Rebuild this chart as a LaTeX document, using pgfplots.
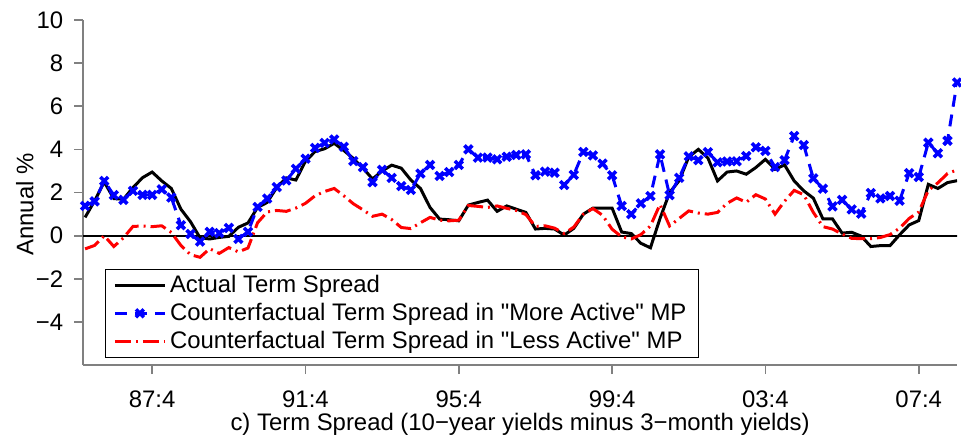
\documentclass[border=0pt]{standalone}
\usepackage{pgfplots}
\pgfplotsset{compat=1.18}
\usepackage{pgfplotstable}
\usepackage{fontspec}
\setmainfont{Liberation Sans}[Ligatures=TeXOff]

\pgfplotstableread{
i v
0 0.85
1 1.62
2 2.49
3 1.72
4 1.69
5 2.23
6 2.69
7 2.95
8 2.54
9 2.19
10 1.23
11 0.65
12 -0.10
13 -0.15
14 -0.08
15 -0.03
16 0.39
17 0.59
18 1.31
19 1.54
20 2.23
21 2.68
22 2.58
23 3.45
24 3.90
25 4.03
26 4.28
27 3.95
28 3.58
29 3.13
30 2.63
31 3.00
32 3.27
33 3.13
34 2.58
35 2.19
36 1.31
37 0.77
38 0.74
39 0.69
40 1.42
41 1.54
42 1.65
43 1.13
44 1.38
45 1.23
46 1.08
47 0.31
48 0.34
49 0.31
50 0.03
51 0.34
52 1.00
53 1.28
54 1.28
55 1.28
56 0.17
57 0.10
58 -0.35
59 -0.56
60 0.80
61 2.00
62 2.55
63 3.65
64 4.00
65 3.60
66 2.54
67 2.95
68 3.00
69 2.85
70 3.16
71 3.54
72 3.08
73 3.28
74 2.54
75 2.08
76 1.74
77 0.78
78 0.78
79 0.12
80 0.16
81 -0.02
82 -0.50
83 -0.46
84 -0.46
85 0.04
86 0.50
87 0.70
88 2.38
89 2.19
90 2.46
91 2.55
}\actual

\pgfplotstableread{
i v
0 1.38
1 1.59
2 2.54
3 1.88
4 1.66
5 2.08
6 1.89
7 1.89
8 2.15
9 1.77
10 0.49
11 0.08
12 -0.27
13 0.18
14 0.12
15 0.36
16 -0.15
17 0.18
18 1.33
19 1.72
20 2.25
21 2.56
22 3.10
23 3.57
24 4.07
25 4.30
26 4.46
27 4.12
28 3.46
29 3.18
30 2.48
31 3.05
32 2.68
33 2.30
34 2.12
35 2.88
36 3.28
37 2.77
38 2.95
39 3.28
40 4.00
41 3.62
42 3.62
43 3.54
44 3.66
45 3.74
46 3.77
47 2.80
48 2.97
49 2.92
50 2.35
51 2.82
52 3.88
53 3.72
54 3.34
55 2.80
56 1.38
57 1.00
58 1.50
59 1.84
60 3.77
61 1.88
62 2.68
63 3.68
64 3.50
65 3.87
66 3.40
67 3.44
68 3.45
69 3.69
70 4.10
71 3.93
72 3.18
73 3.50
74 4.62
75 4.20
76 2.66
77 2.18
78 1.36
79 1.66
80 1.22
81 1.02
82 1.98
83 1.73
84 1.84
85 1.62
86 2.90
87 2.72
88 4.31
89 3.82
90 4.40
91 7.10
}\moreactive

\pgfplotstableread{
i v
0 -0.61
1 -0.45
2 0.00
3 -0.50
4 -0.10
5 0.43
6 0.45
7 0.42
8 0.46
9 0.15
10 -0.45
11 -0.88
12 -1.00
13 -0.60
14 -0.82
15 -0.55
16 -0.75
17 -0.57
18 0.60
19 1.10
20 1.17
21 1.13
22 1.28
23 1.50
24 1.85
25 2.05
26 2.19
27 1.85
28 1.48
29 1.20
30 0.90
31 1.00
32 0.75
33 0.38
34 0.33
35 0.60
36 0.85
37 0.72
38 0.69
39 0.72
40 1.40
41 1.36
42 1.31
43 1.38
44 1.27
45 1.17
46 0.98
47 0.43
48 0.46
49 0.35
50 0.10
51 0.40
52 1.00
53 1.26
54 0.95
55 0.30
56 -0.05
57 -0.15
58 0.05
59 0.45
60 1.45
61 0.45
62 0.80
63 1.15
64 1.05
65 1.00
66 1.08
67 1.50
68 1.75
69 1.55
70 1.90
71 1.70
72 1.00
73 1.60
74 2.10
75 1.90
76 1.08
77 0.42
78 0.31
79 0.08
80 -0.12
81 -0.14
82 -0.14
83 -0.08
84 0.05
85 0.35
86 0.80
87 1.10
88 2.10
89 2.45
90 2.88
91 3.05
}\lessactive

\begin{document}
\begin{tikzpicture}
\begin{axis}[
  at={(0pt,0pt)}, anchor=south west,
  scale only axis,
  width=438.75pt, height=173.35pt,
  xmin=-0.2, xmax=91,
  ymin=-6, ymax=10,
  axis x line*=bottom, axis y line*=left,
  axis line style={gray, line width=1pt, -},
  tick align=outside,
  major tick length=4.5pt,
  tick style={gray, line width=0.8pt},
  xtick={7,23,39,55,71,87},
  xticklabels={87:4,91:4,95:4,99:4,03:4,07:4},
  ytick={-4,-2,0,2,4,6,8,10},
  yticklabels={−4,−2,0,2,4,6,8,10},
  ticklabel style={font=\fontsize{12}{14}\selectfont, black},
  xticklabel style={yshift=-5pt},
  yticklabel style={xshift=-2pt},
  label style={font=\fontsize{12}{14}\selectfont},
  xlabel={c) Term Spread (10−year yields minus 3−month yields)},
  ylabel={Annual \%},
  xlabel style={at={(axis description cs:0.5,-0.172)}, anchor=center},
  ylabel style={at={(axis description cs:-0.0667,0.465)}, anchor=center},
  legend style={at={(axis description cs:0.025,0.022)}, anchor=south west,
    draw=black, line width=0.5pt, fill=white,
    font=\fontsize{12}{14}\selectfont,
    inner xsep=4pt, inner ysep=1pt, row sep=0pt,
    nodes={inner sep=1.9pt},
    cells={anchor=west}},
  legend image code/.code={\draw[mark repeat=2,mark phase=2,#1] plot coordinates {(0pt,0pt)(12.5pt,0pt)(25pt,0pt)};},
  clip=true,
]
\addplot[black, line width=0.9pt, forget plot] coordinates {(-1,0) (92,0)};
\addplot[black, line width=1.5pt] table[x=i,y=v] {\actual};
\addlegendentry{Actual Term Spread}
\addplot[blue, line width=1.5pt, dash pattern=on 6pt off 4pt, mark=x, mark size=2.8pt, mark options={solid, line width=1.8pt}] table[x=i,y=v] {\moreactive};
\addlegendentry{Counterfactual Term Spread in "More Active" MP}
\addplot[red, line width=1.5pt, dash pattern=on 8pt off 2.5pt on 1pt off 2.5pt] table[x=i,y=v] {\lessactive};
\addlegendentry{Counterfactual Term Spread in "Less Active" MP}
\end{axis}
\useasboundingbox (-41.75pt,-36.15pt) rectangle (438.75pt,183.35pt);
\end{tikzpicture}
\end{document}
